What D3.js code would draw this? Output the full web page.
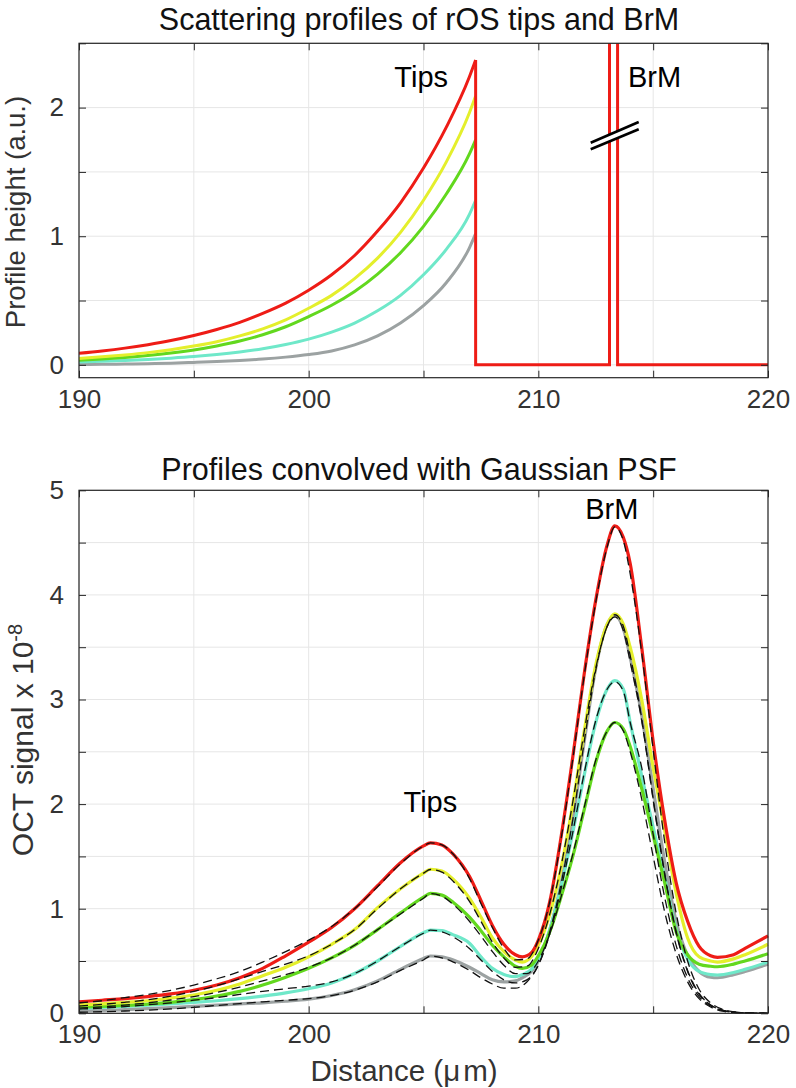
<!DOCTYPE html>
<html><head><meta charset="utf-8">
<script src="https://cdn.jsdelivr.net/npm/d3@7"></script>
<style>
body{margin:0;background:#fff}
svg{display:block}
text{font-family:"Liberation Sans",Arial,Helvetica,sans-serif}
</style>
</head><body>
<svg id="c" width="796" height="1088"></svg>
<script>
// ---------- data: top panel (scattering profiles) ----------
const topX      = [190,191,192,193,194,195,196,197,198,199,200,201,202,203,204,205,206,207,207.27];
const topRed    = [0.09,0.108,0.13,0.157,0.189,0.228,0.275,0.33,0.40,0.48,0.58,0.70,0.85,1.04,1.26,1.53,1.85,2.24,2.37];
const topYellow = [0.05,0.062,0.077,0.095,0.118,0.146,0.18,0.225,0.28,0.35,0.44,0.54,0.67,0.83,1.03,1.28,1.58,1.96,2.09];
const topGreen  = [0.036,0.046,0.058,0.073,0.092,0.116,0.147,0.185,0.234,0.296,0.375,0.463,0.571,0.706,0.872,1.077,1.33,1.64,1.75];
const topCyan   = [0.023,0.028,0.034,0.042,0.052,0.064,0.08,0.10,0.125,0.158,0.20,0.255,0.325,0.42,0.54,0.70,0.90,1.17,1.28];
const topGray   = [0.003,0.004,0.006,0.009,0.013,0.019,0.026,0.034,0.045,0.06,0.08,0.108,0.155,0.225,0.325,0.46,0.64,0.91,1.02];
const tipsEdge  = 207.27;
const brmEdges  = [213.1, 213.45];
const brmHeight = 10;            // off-scale (axis break)
const breakMarks = [[212.28,1.727,214.37,1.888],[212.28,1.676,214.37,1.832]];

// ---------- data: bottom panel (convolved profiles) ----------
const bX = [190,191,192,193,194,195,196,197,198,199,200,201,202,203,204,205,205.3,205.8,206.3,207,207.5,208,208.5,209,209.3,209.7,210,210.5,211,211.5,212,212.5,213,213.33,213.7,214,214.5,215,215.5,216,216.5,217,217.5,217.8,218.5,219,220];
const bRed    = [0.11,0.125,0.14,0.16,0.185,0.22,0.27,0.34,0.43,0.55,0.68,0.82,1.00,1.22,1.44,1.60,1.63,1.61,1.52,1.31,1.08,0.84,0.66,0.56,0.54,0.58,0.70,1.07,1.70,2.45,3.25,3.95,4.48,4.66,4.55,4.30,3.50,2.60,1.85,1.25,0.88,0.64,0.55,0.535,0.56,0.62,0.74];
const bYellow = [0.08,0.09,0.105,0.12,0.145,0.175,0.22,0.28,0.36,0.44,0.54,0.66,0.80,1.01,1.19,1.34,1.377,1.36,1.28,1.10,0.92,0.72,0.59,0.51,0.49,0.54,0.65,0.95,1.40,2.00,2.70,3.33,3.72,3.82,3.72,3.50,3.00,2.35,1.75,1.15,0.72,0.54,0.50,0.49,0.52,0.56,0.66];
const bGreen  = [0.06,0.067,0.076,0.088,0.105,0.13,0.165,0.21,0.27,0.345,0.43,0.53,0.65,0.80,0.96,1.11,1.147,1.13,1.06,0.92,0.79,0.65,0.54,0.45,0.43,0.46,0.55,0.78,1.12,1.50,1.95,2.40,2.70,2.78,2.72,2.55,2.15,1.70,1.25,0.78,0.56,0.47,0.45,0.445,0.47,0.50,0.57];
const bCyan   = [0.05,0.057,0.066,0.077,0.09,0.105,0.12,0.14,0.165,0.195,0.235,0.29,0.38,0.50,0.64,0.77,0.796,0.79,0.75,0.67,0.54,0.43,0.37,0.35,0.37,0.42,0.52,0.80,1.22,1.73,2.28,2.78,3.10,3.18,3.10,2.78,2.27,1.78,1.30,0.80,0.52,0.40,0.37,0.366,0.39,0.42,0.49];
const bGray   = [0.02,0.027,0.035,0.044,0.055,0.066,0.078,0.09,0.10,0.115,0.135,0.17,0.225,0.31,0.42,0.525,0.548,0.54,0.51,0.44,0.38,0.32,0.30,0.31,0.34,0.40,0.50,0.80,1.25,1.85,2.60,3.30,3.72,3.80,3.68,3.40,2.85,2.15,1.45,0.88,0.55,0.40,0.345,0.34,0.37,0.40,0.47];

// dashed model fits
const dX = [190,191,192,193,194,195,196,197,198,199,200,201,202,203,204,205,205.3,205.8,206.3,207,207.5,208,208.5,209,209.5,210,210.5,211,211.5,212,212.5,213,213.33,213.7,214,214.5,215,215.5,216,216.5,217,217.5,218,218.5,219,220];
const fitRed    = [0.10,0.12,0.15,0.18,0.22,0.27,0.33,0.40,0.49,0.59,0.70,0.83,1.00,1.21,1.43,1.60,1.63,1.61,1.52,1.29,1.05,0.82,0.62,0.51,0.52,0.70,1.07,1.68,2.43,3.23,3.93,4.46,4.65,4.52,4.20,3.45,2.52,1.64,0.96,0.50,0.23,0.10,0.04,0.015,0.005,0];
const fitYellow = [0.07,0.085,0.105,0.13,0.165,0.21,0.265,0.33,0.40,0.47,0.55,0.66,0.80,1.00,1.19,1.34,1.375,1.35,1.26,1.07,0.88,0.68,0.53,0.44,0.45,0.62,0.95,1.42,2.02,2.70,3.30,3.70,3.81,3.70,3.42,2.82,2.05,1.34,0.78,0.41,0.19,0.08,0.03,0.01,0.004,0];
const fitGreen  = [0.05,0.062,0.078,0.10,0.127,0.16,0.20,0.25,0.31,0.37,0.44,0.53,0.65,0.80,0.95,1.10,1.145,1.12,1.04,0.88,0.74,0.59,0.46,0.38,0.38,0.50,0.76,1.12,1.52,1.97,2.42,2.70,2.78,2.70,2.50,2.05,1.50,0.97,0.57,0.30,0.14,0.06,0.02,0.008,0.003,0];
const fitCyan   = [0.04,0.05,0.064,0.082,0.10,0.125,0.15,0.18,0.21,0.235,0.26,0.30,0.38,0.50,0.64,0.765,0.795,0.78,0.73,0.62,0.51,0.40,0.32,0.29,0.32,0.46,0.76,1.20,1.73,2.30,2.80,3.10,3.17,3.08,2.78,2.35,1.71,1.11,0.65,0.34,0.16,0.07,0.03,0.01,0.004,0];
const fitGray   = [0.01,0.015,0.022,0.03,0.042,0.057,0.075,0.092,0.11,0.125,0.14,0.17,0.22,0.30,0.41,0.51,0.547,0.53,0.49,0.41,0.34,0.28,0.24,0.24,0.30,0.46,0.78,1.25,1.85,2.60,3.28,3.70,3.79,3.66,3.36,2.80,2.04,1.33,0.77,0.40,0.18,0.08,0.03,0.01,0.004,0];

// ticks
const xTicks = [190,195,200,205,210,215,220];
const xLabels = [190,200,210,220];
const topYTicks = [0,0.5,1,1.5,2,2.5];
const topYLabels = [0,1,2];
const botYTicks = [0,0.5,1,1.5,2,2.5,3,3.5,4,4.5,5];
const botYLabels = [0,1,2,3,4,5];

const colors = {red:"#ee1c16", yellow:"#e4ef2c", green:"#62d81e", cyan:"#6fe8c9", gray:"#9ca2a2"};

// ---------- drawing ----------
const svg = d3.select("#c");
const L = 79, R = 768;
const axisCol = "#262626", gridCol = "#e6e6e6", tickTextCol = "#333";

function panel(top, bottom, yDomain, yTicks, clipId) {
  const x = d3.scaleLinear().domain([190,220]).range([L,R]);
  const y = d3.scaleLinear().domain(yDomain).range([bottom,top]);
  const g = svg.append("g");
  g.selectAll(null).data(xTicks).join("line")
    .attr("x1",d=>x(d)).attr("x2",d=>x(d)).attr("y1",top).attr("y2",bottom)
    .attr("stroke",gridCol).attr("stroke-width",1);
  g.selectAll(null).data(yTicks).join("line")
    .attr("x1",L).attr("x2",R).attr("y1",d=>y(d)).attr("y2",d=>y(d))
    .attr("stroke",gridCol).attr("stroke-width",1);
  svg.append("clipPath").attr("id",clipId).append("rect")
    .attr("x",L).attr("y",top).attr("width",R-L).attr("height",bottom-top);
  return {x,y,g,top,bottom};
}

function frame(p, yTicks, yLabels) {
  const {x,y,g,top,bottom} = p;
  const fmtX = d => xLabels.includes(d) ? d : "";
  const fmtY = d => yLabels.includes(d) ? d : "";
  const ax = [
    g.append("g").attr("transform",`translate(0,${bottom})`)
      .call(d3.axisBottom(x).tickValues(xTicks).tickSize(-7).tickSizeOuter(0).tickPadding(11.5).tickFormat(fmtX)),
    g.append("g").attr("transform",`translate(0,${top})`)
      .call(d3.axisTop(x).tickValues(xTicks).tickSize(-7).tickSizeOuter(0).tickFormat("")),
    g.append("g").attr("transform",`translate(${L},0)`)
      .call(d3.axisLeft(y).tickValues(yTicks).tickSize(-7).tickSizeOuter(0).tickPadding(15).tickFormat(fmtY)),
    g.append("g").attr("transform",`translate(${R},0)`)
      .call(d3.axisRight(y).tickValues(yTicks).tickSize(-7).tickSizeOuter(0).tickFormat(""))
  ];
  ax.forEach(a => {
    a.select(".domain").remove();
    a.selectAll(".tick line").attr("stroke",axisCol).attr("stroke-width",1);
    a.selectAll(".tick text").attr("fill",tickTextCol).style("font-size","26px")
      .style("font-family",'"Liberation Sans",Arial,Helvetica,sans-serif');
  });
  g.append("rect").attr("x",L).attr("y",top).attr("width",R-L).attr("height",bottom-top)
    .attr("fill","none").attr("stroke",axisCol).attr("stroke-width",1.2);
}

// ===== TOP PANEL =====
const P1 = panel(43.3, 377.7, [-0.1,2.5], topYTicks, "clip1");
{
  const {x,y,g} = P1;
  const line = d3.line().x(d=>x(d[0])).y(d=>y(d[1])).curve(d3.curveMonotoneX);
  const cg = g.append("g").attr("clip-path","url(#clip1)");
  const series = [[topGray,colors.gray],[topCyan,colors.cyan],[topGreen,colors.green],[topYellow,colors.yellow],[topRed,colors.red]];
  series.forEach(([vals,c]) => {
    cg.append("path").datum(topX.map((xx,i)=>[xx,vals[i]]))
      .attr("d",line).attr("fill","none").attr("stroke",c).attr("stroke-width",3);
  });
  const lin = d3.line().x(d=>x(d[0])).y(d=>y(d[1]));
  const stepA = [[tipsEdge, topRed[topRed.length-1]],[tipsEdge,0],[brmEdges[0],0],[brmEdges[0],brmHeight]];
  const stepB = [[brmEdges[1],brmHeight],[brmEdges[1],0],[220,0]];
  [stepA,stepB].forEach(s => cg.append("path").datum(s).attr("d",lin)
    .attr("fill","none").attr("stroke",colors.red).attr("stroke-width",3).attr("stroke-linejoin","miter"));
  const [b1,b2] = breakMarks;
  g.append("polygon")
    .attr("points",[[x(b1[0]),y(b1[1])],[x(b1[2]),y(b1[3])],[x(b2[2]),y(b2[3])],[x(b2[0]),y(b2[1])]].map(p=>p.join(",")).join(" "))
    .attr("fill","#fff");
  breakMarks.forEach(b => g.append("line")
    .attr("x1",x(b[0])).attr("y1",y(b[1])).attr("x2",x(b[2])).attr("y2",y(b[3]))
    .attr("stroke","#000").attr("stroke-width",2.6));
  frame(P1, topYTicks, topYLabels);
  g.append("text").attr("x",x(204.9)).attr("y",87).attr("text-anchor","middle")
    .style("font-size","29px").attr("fill","#000").text("Tips");
  g.append("text").attr("x",x(213.9)).attr("y",87).attr("text-anchor","start")
    .style("font-size","29px").attr("fill","#000").text("BrM");
  svg.append("text").attr("x",419).attr("y",30).attr("text-anchor","middle")
    .style("font-size","30.5px").attr("fill","#111").text("Scattering profiles of rOS tips and BrM");
  svg.append("text").attr("transform","translate(25,212) rotate(-90)").attr("text-anchor","middle")
    .style("font-size","27.5px").attr("fill","#333").text("Profile height (a.u.)");
}

// ===== BOTTOM PANEL =====
const P2 = panel(490.3, 1013.3, [0,5], botYTicks, "clip2");
{
  const {x,y,g} = P2;
  const line = d3.line().x(d=>x(d[0])).y(d=>y(d[1])).curve(d3.curveMonotoneX);
  const series = [[bGray,colors.gray],[bCyan,colors.cyan],[bGreen,colors.green],[bYellow,colors.yellow],[bRed,colors.red]];
  series.forEach(([vals,c]) => {
    g.append("path").datum(bX.map((xx,i)=>[xx,vals[i]]))
      .attr("d",line).attr("fill","none").attr("stroke",c).attr("stroke-width",3.2);
  });
  const fits = [fitGray,fitCyan,fitGreen,fitYellow,fitRed];
  fits.forEach(vals => {
    g.append("path").datum(dX.map((xx,i)=>[xx,vals[i]]))
      .attr("d",line).attr("fill","none").attr("stroke","#111").attr("stroke-width",1.3)
      .attr("stroke-dasharray","9,5");
  });
  frame(P2, botYTicks, botYLabels);
  g.append("text").attr("x",x(205.3)).attr("y",812).attr("text-anchor","middle")
    .style("font-size","29px").attr("fill","#000").text("Tips");
  g.append("text").attr("x",x(213.2)).attr("y",519).attr("text-anchor","middle")
    .style("font-size","29px").attr("fill","#000").text("BrM");
  svg.append("text").attr("x",419).attr("y",480).attr("text-anchor","middle")
    .style("font-size","30.5px").attr("fill","#111").text("Profiles convolved with Gaussian PSF");
  const yl = svg.append("text").attr("transform","translate(33,740) rotate(-90)").attr("text-anchor","middle")
    .style("font-size","30px").attr("fill","#333");
  yl.append("tspan").text("OCT signal x 10");
  yl.append("tspan").attr("dy","-0.55em").style("font-size","20px").text("-8");
  const xl = svg.append("text").attr("x",404).attr("y",1081).attr("text-anchor","middle")
    .style("font-size","29.5px").attr("fill","#333");
  xl.append("tspan").text("Distance (μ");
  xl.append("tspan").attr("dx","3").text("m)");
}
</script>
</body></html>
